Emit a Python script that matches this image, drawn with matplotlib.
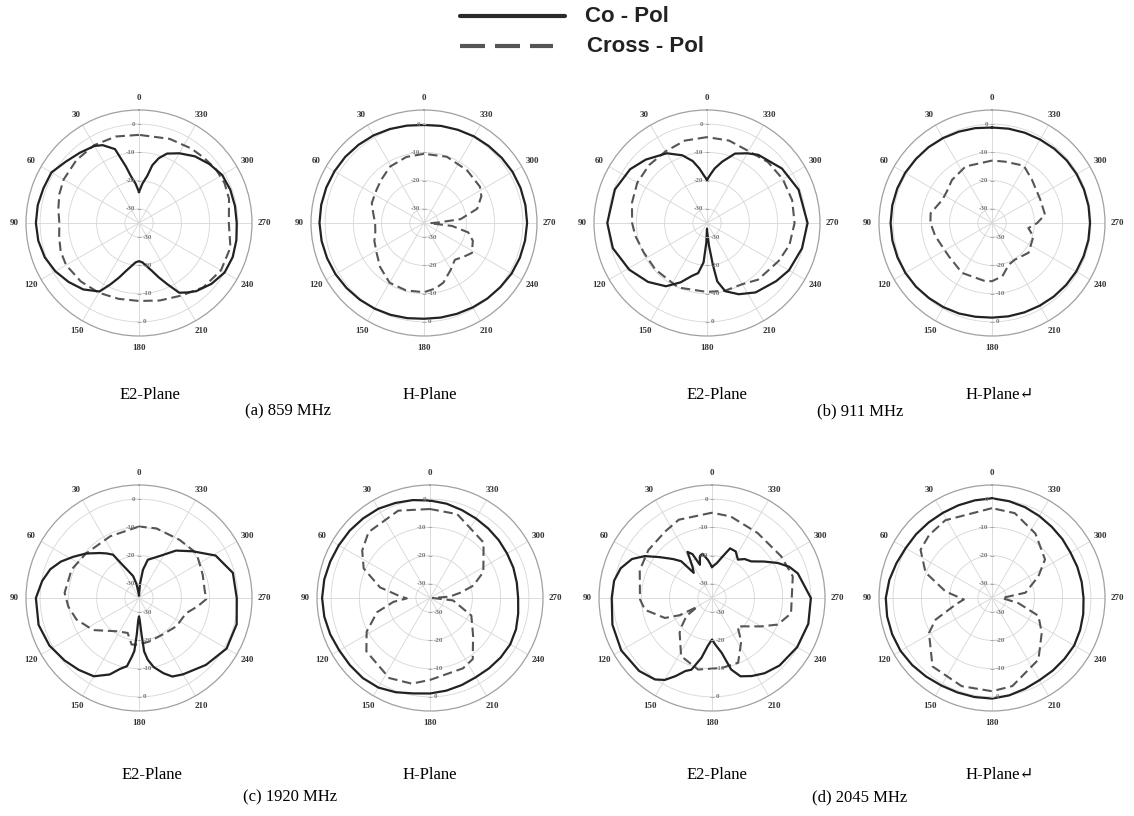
import numpy as np
import matplotlib
matplotlib.use('Agg')
import matplotlib.pyplot as plt
from matplotlib.lines import Line2D

# ---- data read from the measured patterns (angle in deg, gain in dB) ----
# (a) 859 MHz
ang_859_e2_co = [0, 5, 10, 13, 18, 25, 30, 40, 50, 60, 70, 80, 90, 100, 110, 120, 130, 140, 150, 155,
                 160, 165, 170, 175, 180, 185, 190, 195, 200, 205, 210, 215, 220, 230, 240, 250, 260, 270,
                 280, 290, 300, 310, 320, 330, 338, 343, 347, 350, 355]
db_859_e2_co = [-24, -21, -18, -14.5, -7.5, -4.6, -3.5, -2.5, -1.2, 0.8, 1.0, 1.4, 1.5, 1.2, 0.5, -0.8, -2.5,
                -4.3, -7, -11, -14.5, -17.5, -19.5, -21, -21.5, -21, -19.5, -17.5, -14.5, -11, -6.5, -5,
                -3.5, -1.5, 0, 0.3, 0, -0.4, -0.5, -0.6, -1.0, -2.5, -4.2, -6.5, -8.5, -11, -14, -18, -21]
ang_859_e2_x = [0, 15, 30, 45, 60, 70, 80, 90, 100, 110, 120, 135, 150, 165, 180, 195, 210, 225, 240,
                255, 270, 285, 295, 305, 315, 325, 340]
db_859_e2_x = [-3.8, -3.3, -3.2, -3.6, -4.2, -5.0, -6.0, -6.8, -6.3, -5.5, -5.2, -5.8, -6.5, -7.2, -7.4,
               -6.6, -5.3, -2.8, -1.5, -1.5, -3.2, -2.0, -1.6, -1.8, -2.4, -2.8, -3.3]
ang_859_h_co = list(range(0, 360, 10))
db_859_h_co = [-0.3, 0.0, 0.4, 0.8, 1.1, 1.4, 1.6, 1.8, 1.95, 2.0, 1.8, 1.5, 1.2, 0.8, 0.4, 0.0, -0.4,
               -0.8, -1.1, -1.0, -0.8, -0.5, -0.1, 0.3, 0.8, 1.1, 1.3, 1.5, 1.45, 1.35, 1.2, 0.9, 0.6,
               0.4, 0.1, -0.1]
ang_859_h_x = [0, 15, 31, 45, 55, 69, 80, 90, 100, 110, 122, 135, 150, 165, 180, 190, 198, 210, 220,
               230, 238, 250, 258, 264, 268, 272, 276, 285, 295, 303, 321, 341]
db_859_h_x = [-10.5, -10.8, -11.7, -13.5, -14.5, -15.2, -16.8, -17.7, -17.5, -16.3, -15.2, -13, -10.6,
              -10.3, -10.5, -11.5, -12.8, -16, -18, -16.5, -15, -16.6, -19, -25, -33, -30, -22, -15.5,
              -12.6, -11.4, -10.9, -10.2]

# (b) 911 MHz
ang_911_e2_co = [0, 4, 8, 13, 20, 30, 44, 55, 70, 90, 105, 121, 135, 147, 156, 164, 170, 175, 178, 180,
                 181, 185, 188, 190, 195, 204, 215, 230, 240, 255, 270, 290, 306, 323, 330, 338, 346, 352, 356]
db_911_e2_co = [-19.7, -18, -15.5, -12.5, -9.5, -6.5, -3.8, -1.8, -0.3, 0.3, -0.5, -2.9, -5.5, -8.3,
                -12, -15.5, -17, -21, -28, -33, -32, -27, -20, -14, -10, -7.4, -5, -3, -1.5, -0.2, 0.6,
                -0.5, -2.2, -4.8, -6.5, -8.5, -12.6, -15.5, -17.8]
ang_911_e2_x = [0, 15, 30, 45, 60, 75, 90, 100, 115, 132, 156, 180, 195, 210, 222, 242, 255, 270, 285,
                300, 315, 330, 345]
db_911_e2_x = [-4.6, -4.8, -5.7, -6, -6.5, -7.5, -8.5, -9.2, -10.3, -10.4, -10, -10.6, -10.2, -10, -8,
               -6.3, -4.8, -4, -3.8, -4, -4.5, -5.6, -4.8]
ang_911_h_co = list(range(0, 360, 10))
db_911_h_co = [-1.2, -0.9, -0.6, -0.3, 0.0, 0.2, 0.5, 0.7, 0.85, 0.9, 0.8, 0.6, 0.4, 0.1, -0.3, -0.6,
               -0.9, -1.3, -1.5, -1.45, -1.35, -1.2, -1.0, -0.8, -0.6, -0.5, -0.35, -0.3, -0.3, -0.35,
               -0.4, -0.5, -0.7, -0.9, -1.0, -1.1]
ang_911_h_x = [0, 25, 43, 55, 65, 81, 90, 103, 128, 149, 173, 180, 191, 202, 212, 231, 252, 262, 270,
               279, 296, 317, 331, 348]
db_911_h_x = [-12.9, -12.9, -14.2, -15.5, -15.6, -13, -13.2, -14.4, -15.7, -14.4, -14.3, -14.4, -15.8,
              -19.1, -19.7, -18.3, -19.6, -22, -19, -16, -16, -14.2, -11.8, -12.8]

# (c) 1920 MHz
ang_1920_e2_co = [0, 10, 15, 22, 27, 31, 36, 41, 50, 58, 65, 72, 80, 90, 105, 118, 130, 140, 150, 159,
                  165, 170, 173, 175, 176.5, 178, 180, 182, 184, 185.5, 188, 192, 198, 203, 210, 225,
                  240, 255, 270, 285, 299, 311, 322, 334, 347, 352, 356]
db_1920_e2_co = [-34, -30, -27, -24.5, -21.5, -17.1, -15.5, -13.9, -10.5, -7.5, -4.5, -2, -0.2, 1.5,
                 1.8, 0.9, -0.6, -1.8, -3, -6, -9, -10.5, -14, -16.2, -22, -27, -28.5, -27, -22, -16,
                 -13, -10, -7, -4.8, -3.8, -1.5, 0.8, 0.8, -0.4, -0.6, -4, -9.8, -13.7, -18.5, -21.1,
                 -24.9, -30]
ang_1920_e2_x = [0, 25, 50, 67, 86, 97, 109, 125, 146, 162, 171, 180, 194, 213, 233, 252, 262, 269, 277,
                 290, 300, 308, 325, 346]
db_1920_e2_x = [-9.7, -10.9, -10.5, -9.1, -8.6, -9.8, -11.6, -15.2, -20.8, -22, -18.3, -18.5, -19.2,
                -19.6, -18.4, -17.5, -14, -11.2, -11.6, -11, -10.3, -9.2, -9.9, -9.6]
ang_1920_h_co = list(range(0, 360, 10))
db_1920_h_co = [-0.5, 0.2, 0.8, 1.5, 1.8, 2.1, 2.3, 2.6, 3.0, 3.2, 3.0, 2.6, 2.1, 2.0, 2.0, 1.6, 0.5,
                -0.7, -1.2, -1.7, -2.2, -2.6, -2.5, -2.3, -2.2, -2.6, -3.3, -3.8, -3.8, -3.6, -3.5,
                -3.2, -2.9, -2.5, -1.9, -1.1]
ang_1920_h_x = [0, 20, 43, 55, 66, 78, 86, 91, 96, 105, 118, 130, 153, 168, 180, 205, 215, 229, 247,
                264, 270, 274, 280, 286, 296, 306, 316, 342]
db_1920_h_x = [-3.5, -2.1, -3.1, -5.7, -9.3, -16.9, -24, -26.8, -22, -15.6, -9.6, -5.6, -3.2, -4, -6,
               -7.5, -8.6, -14.8, -19.1, -26.8, -34, -28, -24, -19, -14, -11.6, -7.7, -3.8]

# (d) 2045 MHz
ang_2045_e2_co = [0, 6, 12, 16, 20, 24, 28, 32, 36, 40, 45, 52, 58, 64, 72, 80, 90, 105, 120, 135, 145,
                  150, 155, 160, 164, 170, 175, 180, 184, 190, 195, 200, 207, 215, 225, 240, 255, 270,
                  286, 292, 298, 305, 313, 320, 326, 333, 340, 346, 352]
db_2045_e2_co = [-24, -21.5, -19, -19.5, -22.5, -18, -16.5, -22, -24, -18, -15.5, -11.5, -7, -3.5, -1,
                 0.2, 0.5, 1.5, 2.1, 1.5, 0.2, -1.5, -4.5, -7.5, -8.6, -13.5, -18, -20.3, -18.5, -15.3,
                 -8.8, -5.5, -4, -2.5, -1.2, -0.2, 0.3, 0, -3.4, -5.5, -8.6, -12.5, -16, -17, -18.6,
                 -16.5, -16.3, -20, -22.5]
ang_2045_e2_x = [0, 23, 35, 53, 69, 91, 100, 113, 118, 121, 125, 133, 137, 152, 169, 188, 202, 214, 222,
                 229, 240, 248, 259, 285, 301, 325, 347]
db_2045_e2_x = [-4.8, -4.9, -6.2, -6.8, -7.6, -9.5, -10.9, -16.9, -22, -29, -24, -20.3, -18.2, -11.7,
                -9.2, -10, -10.3, -16.5, -21.5, -19.7, -14.9, -9.9, -6.5, -5.4, -6.4, -6.9, -5.4]
ang_2045_h_co = list(range(0, 360, 10))
db_2045_h_co = [0.3, 0.1, -0.1, -0.2, -0.1, 0.1, 0.3, 1.0, 1.9, 2.6, 2.7, 2.6, 2.4, 1.9, 1.3, 0.8, 0.6,
                0.6, 0.6, 0.0, -0.8, -1.4, -1.5, -1.5, -1.4, -1.8, -2.2, -2.6, -2.75, -2.85, -2.9,
                -2.5, -2.1, -1.5, -0.8, -0.2]
ang_2045_h_x = [0, 31, 45, 56, 69, 82, 93, 100, 111, 119, 139, 161, 180, 193, 217, 235, 249, 259, 270,
                279, 295, 306, 326, 345]
db_2045_h_x = [-3.2, -2.9, -3.5, -4.5, -9.8, -18.4, -25, -22, -13.6, -9.5, -2.9, -2, -2, -3, -7.7,
               -13.5, -17.4, -25.5, -31.5, -23, -16.9, -11.8, -7.5, -3.9]

plane_titles = ['E2-Plane', 'H-Plane', 'E2-Plane', 'H-Plane\u21b5',
                'E2-Plane', 'H-Plane', 'E2-Plane', 'H-Plane\u21b5']
freq_captions = ['(a) 859 MHz', '(b) 911 MHz', '(c) 1920 MHz', '(d) 2045 MHz']
angle_ticks = list(range(0, 360, 30))
ring_values = [-30, -20, -10, 0]

panels = [
    (ang_859_e2_co, db_859_e2_co, ang_859_e2_x, db_859_e2_x),
    (ang_859_h_co, db_859_h_co, ang_859_h_x, db_859_h_x),
    (ang_911_e2_co, db_911_e2_co, ang_911_e2_x, db_911_e2_x),
    (ang_911_h_co, db_911_h_co, ang_911_h_x, db_911_h_x),
    (ang_1920_e2_co, db_1920_e2_co, ang_1920_e2_x, db_1920_e2_x),
    (ang_1920_h_co, db_1920_h_co, ang_1920_h_x, db_1920_h_x),
    (ang_2045_e2_co, db_2045_e2_co, ang_2045_e2_x, db_2045_e2_x),
    (ang_2045_h_co, db_2045_h_co, ang_2045_h_x, db_2045_h_x),
]

# ---- layout (pixel positions on a 1134x816 canvas) ----
W, H = 1134, 816
R_PX = 113
centers = [(139, 223), (424, 223), (707, 223), (992, 223),
           (139, 598), (430, 598), (712, 598), (992, 598)]

SERIF = ['Liberation Serif', 'DejaVu Serif']
CO_COLOR = '#222222'
X_COLOR = '#555555'

fig = plt.figure(figsize=(W / 100, H / 100), dpi=100)
fig.patch.set_facecolor('white')


def closed(ang, db):
    a = np.deg2rad(np.append(ang, ang[0]))
    d = np.append(db, db[0])
    return a, d


def draw_pattern(ax, co_ang, co_db, x_ang, x_db):
    ax.set_theta_zero_location('N')
    ax.set_theta_direction(1)
    ax.set_ylim(-35, 5)
    ax.set_yticks(ring_values)
    ax.set_yticklabels([])
    ax.set_xticks(np.deg2rad(angle_ticks))
    ax.set_xticklabels([])
    ax.tick_params(axis='x', length=3, color='#999999', direction='out')
    ax.grid(True, color='#d6d6d6', lw=0.6)
    ax.spines['polar'].set_color('#a0a0a0')
    ax.spines['polar'].set_linewidth(0.9)

    a, d = closed(x_ang, x_db)
    ax.plot(a, d, color=X_COLOR, lw=1.5, dashes=(4.5, 2.3))
    a, d = closed(co_ang, co_db)
    ax.plot(a, d, color=CO_COLOR, lw=1.6)

    # angle labels outside the ring
    for t in angle_ticks:
        ax.text(np.deg2rad(t), 9.2, str(t), ha='center', va='center', fontsize=6.5,
                fontweight='bold', family=SERIF, color='#333333', clip_on=False)

    # radial labels on the 0 and 180 spokes
    for th in (0, np.pi):
        ax.plot(np.full(len(ring_values), th), ring_values, ls='none', marker='_', ms=2.5,
                mew=0.6, color='#aaaaaa')
    for rv in ring_values:
        ax.annotate(str(rv), xy=(0, rv), xytext=(-2.5, 0), textcoords='offset points',
                    ha='right', va='center', fontsize=5, fontweight='bold', family=SERIF,
                    color='#777777')
        ax.annotate(str(rv), xy=(np.pi, rv), xytext=(2.5, 0), textcoords='offset points',
                    ha='left', va='center', fontsize=5, fontweight='bold', family=SERIF,
                    color='#777777')


for (cx, cy), data in zip(centers, panels):
    rect = [(cx - R_PX) / W, 1 - (cy + R_PX) / H, 2 * R_PX / W, 2 * R_PX / H]
    ax = fig.add_axes(rect, projection='polar')
    draw_pattern(ax, *data)

# ---- captions ----
title_pos = [(150, 395), (430, 395), (717, 395), (1000, 395),
             (152, 775), (430, 775), (717, 775), (1000, 775)]
for (tx, ty), txt in zip(title_pos, plane_titles):
    fig.text(tx / W, 1 - ty / H, txt, ha='center', va='center', fontsize=12, family=SERIF)

caption_pos = [(288, 411), (860, 411), (290, 797), (860, 797)]
for (tx, ty), txt in zip(caption_pos, freq_captions):
    fig.text(tx / W, 1 - ty / H, txt, ha='center', va='center', fontsize=12, family=SERIF)

# ---- legend at the top ----
fig.add_artist(Line2D([460 / W, 565 / W], [1 - 16 / H, 1 - 16 / H], transform=fig.transFigure,
                      color='#2a2a2a', lw=3, solid_capstyle='round'))
fig.add_artist(Line2D([460 / W, 553 / W], [1 - 46 / H, 1 - 46 / H], transform=fig.transFigure,
                      color='#555555', lw=3, dashes=(6, 2.4)))
fig.text(585 / W, 1 - 16 / H, 'Co - Pol', ha='left', va='center', fontsize=16,
         fontweight='bold', family=['Liberation Sans', 'DejaVu Sans'], color='#222222')
fig.text(587 / W, 1 - 46 / H, 'Cross - Pol', ha='left', va='center', fontsize=16,
         fontweight='bold', family=['Liberation Sans', 'DejaVu Sans'], color='#222222')

fig.savefig('out.png', dpi=100, facecolor='white')
